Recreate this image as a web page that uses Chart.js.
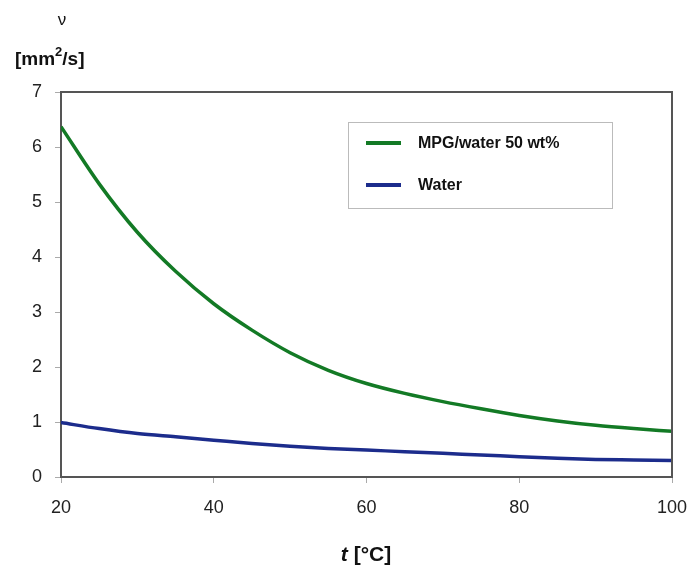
<!DOCTYPE html>
<html>
<head>
<meta charset="utf-8">
<script src="https://cdn.jsdelivr.net/npm/chart.js@4/dist/chart.umd.min.js"></script>
<style>
  html, body { margin: 0; padding: 0; background: #fff; }
  #wrap { width: 696px; height: 577px; }
</style>
</head>
<body>
<div id="wrap"><canvas id="myChart" width="696" height="577"></canvas></div>
<script>
// data
temperatures = [20, 25, 30, 35, 40, 45, 50, 55, 60, 65, 70, 75, 80, 85, 90, 95, 100];
mpgValues    = [6.37, 5.33, 4.45, 3.74, 3.15, 2.67, 2.26, 1.94, 1.70, 1.52, 1.37, 1.24, 1.12, 1.02, 0.94, 0.88, 0.83];
waterValues  = [0.99, 0.88, 0.79, 0.73, 0.67, 0.61, 0.56, 0.52, 0.49, 0.46, 0.43, 0.40, 0.37, 0.34, 0.32, 0.31, 0.30];
seriesNames  = ["MPG/water 50 wt%", "Water"];
xTicks = [20, 40, 60, 80, 100];
yTicks = [0, 1, 2, 3, 4, 5, 6, 7];

const FONT = "Arial, 'Liberation Sans', sans-serif";

function toPoints(vals){
    return temperatures.map((t, i) => ({ x: t, y: vals[i] }));
}

// frame, axis titles and legend
const extras = {
    id: "extras",
    afterDraw(chart){
        const c = chart.ctx;
        const a = chart.chartArea;
        c.save();
        // top + right border
        c.strokeStyle = "#555";
        c.lineWidth = 2;
        c.beginPath();
        c.moveTo(a.left, a.top);
        c.lineTo(a.right, a.top);
        c.lineTo(a.right, a.bottom);
        c.stroke();

        // y title
        c.fillStyle = "#111";
        c.textAlign = "center";
        c.textBaseline = "middle";
        c.font = "17px " + FONT;
        c.fillText("ν", 62, 20);
        c.font = "bold 19px " + FONT;
        c.textAlign = "left";
        c.fillText("[mm", 15, 60);
        let w = c.measureText("[mm").width;
        c.font = "bold 13px " + FONT;
        c.fillText("2", 15 + w, 52);
        let w2 = c.measureText("2").width;
        c.font = "bold 19px " + FONT;
        c.fillText("/s]", 15 + w + w2, 60);

        // x title
        c.font = "italic bold 21px " + FONT;
        let tw = c.measureText("t ").width;
        c.font = "bold 21px " + FONT;
        let rw = c.measureText("[°C]").width;
        let sx = 366 - (tw + rw) / 2;
        c.font = "italic bold 21px " + FONT;
        c.fillText("t ", sx, 555);
        c.font = "bold 21px " + FONT;
        c.fillText("[°C]", sx + tw, 555);

        // legend
        c.strokeStyle = "#bbb";
        c.lineWidth = 1;
        c.strokeRect(348.5, 122.5, 264, 86);
        const rows = [143, 185];
        chart.data.datasets.forEach((ds, i) => {
            c.strokeStyle = ds.borderColor;
            c.lineWidth = 4;
            c.beginPath();
            c.moveTo(366, rows[i]);
            c.lineTo(401, rows[i]);
            c.stroke();
            c.fillStyle = "#111";
            c.font = "bold 16px " + FONT;
            c.textBaseline = "middle";
            c.fillText(ds.label, 418, rows[i] + 1);
        });
        c.restore();
    }
};

const ctx = document.getElementById("myChart");

new Chart(ctx, {
    type: "line",
    data: {
        datasets: [{
            label: seriesNames[0],
            data: toPoints(mpgValues),
            borderColor: "#137a25",
            borderWidth: 3.5,
            pointRadius: 0,
            cubicInterpolationMode: "monotone",
            fill: false
        }, {
            label: seriesNames[1],
            data: toPoints(waterValues),
            borderColor: "#1c2c8c",
            borderWidth: 3.5,
            pointRadius: 0,
            cubicInterpolationMode: "monotone",
            fill: false
        }]
    },
    options: {
        responsive: false,
        animation: false,
        layout: { padding: { left: 0, top: 92, right: 24, bottom: 0 } },
        plugins: {
            legend: { display: false },
            tooltip: { enabled: false }
        },
        scales: {
            x: {
                type: "linear",
                min: 20,
                max: 100,
                afterBuildTicks: s => { s.ticks = xTicks.map(v => ({ value: v })); },
                afterFit: s => { s.height = 100; s.paddingLeft = 0; s.paddingRight = 0; },
                ticks: { color: "#222", font: { family: FONT, size: 18 }, padding: 14 },
                grid: { display: true, drawOnChartArea: false, drawTicks: true, tickLength: 6, color: "#aaa" },
                border: { display: true, color: "#555", width: 2 }
            },
            y: {
                min: 0,
                max: 7,
                afterBuildTicks: s => { s.ticks = yTicks.map(v => ({ value: v })); },
                afterFit: s => { s.width = 61; s.paddingTop = 0; s.paddingBottom = 0; },
                ticks: { color: "#222", font: { family: FONT, size: 18 }, padding: 13 },
                grid: { display: true, drawOnChartArea: false, drawTicks: true, tickLength: 6, color: "#aaa" },
                border: { display: true, color: "#555", width: 2 }
            }
        }
    },
    plugins: [extras]
});
</script>
</body>
</html>
